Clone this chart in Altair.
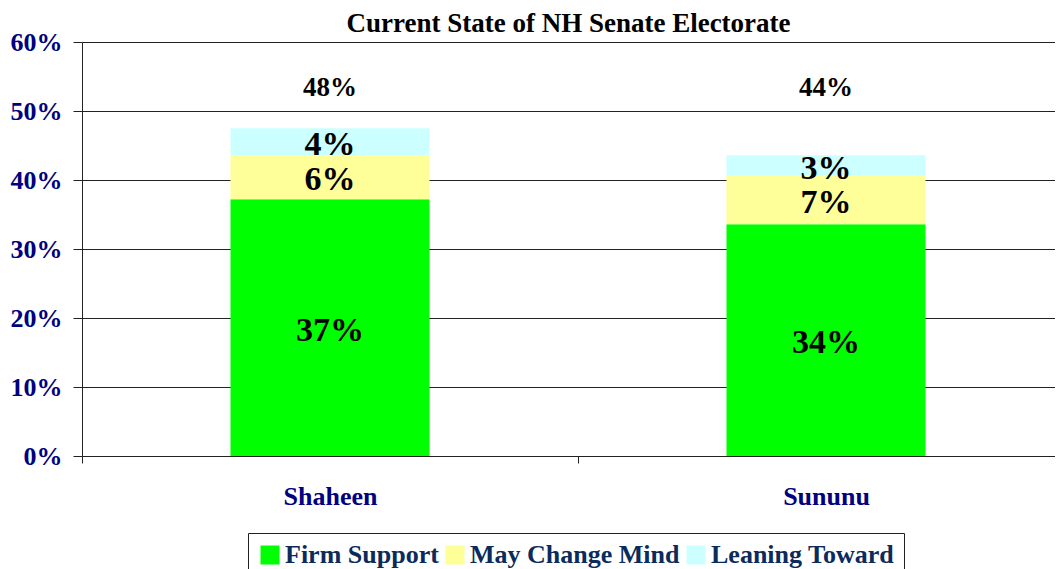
import altair as alt
import pandas as pd

candidates = ["Shaheen", "Sununu"]
segments = ["Firm Support", "May Change Mind", "Leaning Toward"]
firm = [37.2, 33.6]
may_change = [6.4, 7.0]
leaning = [3.9, 3.0]
seg_labels = [["37%", "6%", "4%"], ["34%", "7%", "3%"]]
totals = ["48%", "44%"]

rows = []
for i, c in enumerate(candidates):
    for j, (s, v) in enumerate(zip(segments, [firm[i], may_change[i], leaning[i]])):
        rows.append({"cand": c, "seg": s, "order": j, "value": v, "label": seg_labels[i][j]})
df = pd.DataFrame(rows)
tot_df = pd.DataFrame({"cand": candidates, "label": totals})

serif = "Liberation Serif"
navy = "#000080"

x_scale = alt.Scale(domain=candidates, paddingInner=0.0, paddingOuter=0.0, range=[0, 992])

x_enc = alt.X("cand:N", sort=candidates, title=None, scale=x_scale,
              axis=alt.Axis(labelAngle=0, labelFont=serif, labelFontSize=26, labelFontWeight="bold",
                            labelColor=navy, tickBand="extent", tickSize=7, tickColor="#222",
                            domainColor="#222", labelPadding=20, grid=False))

base = alt.Chart(df).transform_stack(
    stack="value", as_=["v0", "v1"], groupby=["cand"], sort=[alt.SortField("order")]
).transform_calculate(mid="(datum.v0 + datum.v1) / 2")

bars = base.mark_bar(size=199).encode(
    x=x_enc,
    y=alt.Y("v0:Q", title=None,
            scale=alt.Scale(domain=[0, 60], nice=False),
            axis=alt.Axis(values=[0, 10, 20, 30, 40, 50, 60], labelExpr="datum.value + '%'",
                          labelFont=serif, labelFontSize=26, labelFontWeight="bold", labelColor=navy,
                          tickSize=9, tickColor="#222", domainColor="#222", labelPadding=11,
                          grid=True, gridColor="#222", gridOpacity=1)),
    y2="v1:Q",
    color=alt.Color("seg:N", sort=segments,
                    scale=alt.Scale(domain=segments, range=["#00FF00", "#FFFF99", "#CCFFFF"]),
                    legend=alt.Legend(title=None, orient="none", direction="horizontal",
                                      legendX=166, legendY=491,
                                      symbolType="square", symbolSize=361, symbolStrokeWidth=0,
                                      labelFont=serif, labelFontSize=26, labelFontWeight="bold",
                                      labelColor="#0B2B5C", strokeColor="#222", fillColor="white",
                                      padding=9, columnPadding=3, labelOffset=2, labelLimit=400)),
)

seg_text = base.mark_text(font=serif, fontSize=34, fontWeight="bold", color="black",
                          baseline="middle", dy=3).encode(
    x=alt.X("cand:N", sort=candidates, scale=x_scale),
    y=alt.Y("mid:Q"),
    text="label:N",
)

tot_text = alt.Chart(tot_df).mark_text(font=serif, fontSize=27, fontWeight="bold", color="black",
                                        baseline="middle").encode(
    x=alt.X("cand:N", sort=candidates, scale=x_scale),
    y=alt.value(46),
    text="label:N",
)

chart = alt.layer(bars, seg_text, tot_text).properties(
    width=973, height=414,
    title=alt.TitleParams("Current State of NH Senate Electorate", font=serif, fontSize=27,
                          fontWeight="bold", color="black", anchor="middle", offset=-9),
    autosize=alt.AutoSizeParams(type="none"),
    padding={"left": 74, "top": 34, "right": 0, "bottom": 130},
).configure_view(stroke=None)

chart.save("out.html", embed_options={"renderer": "svg", "actions": False})
